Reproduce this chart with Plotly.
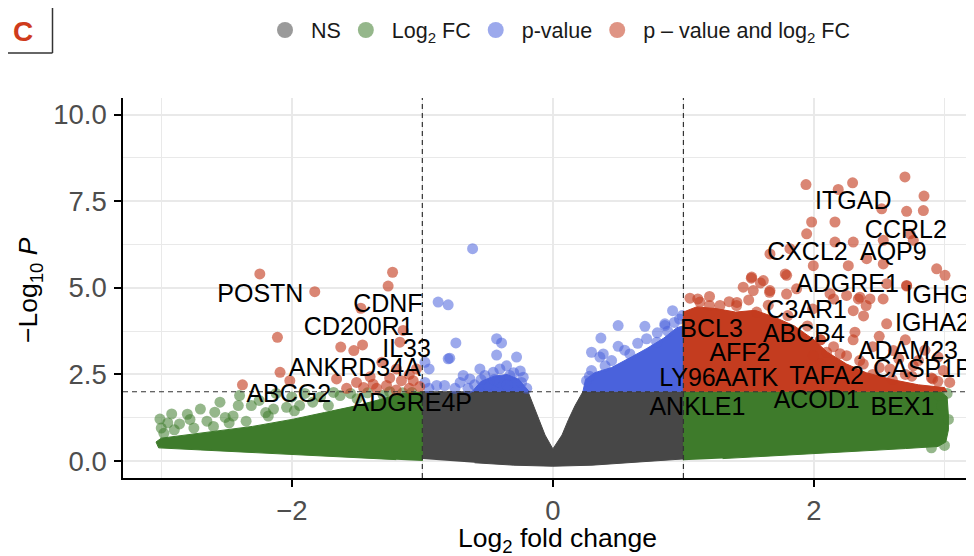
import plotly.graph_objects as go

# ---------------- data ----------------
fc_cutoff = 1.0
p_cutoff = 2.0
x_range = [-3.293, 3.226]
y_range = [-0.49, 10.48]

# Dense cores of the point clouds (outline of the saturated areas)
ns_core_x = [-1.0, -1.0, -0.19, -0.15, -0.11, -0.06, 0.0, 0.07, 0.12, 0.17, 0.23, 1.0, 1.0, 0.6, 0.3, 0.0, -0.3, -0.6]
ns_core_y = [0.06, 2.0, 2.0, 1.6, 1.2, 0.75, 0.35, 0.75, 1.2, 1.6, 2.0, 2.0, 0.06, -0.05, -0.12, -0.15, -0.12, -0.05]

fc_left_core_x = [-1.0, -1.0, -1.15, -1.3, -1.5, -1.75, -2.0, -2.3, -2.6, -2.85, -3.0, -3.04, -3.02, -2.7, -2.3, -1.9, -1.5, -1.2]
fc_left_core_y = [0.0, 2.0, 1.95, 1.8, 1.6, 1.4, 1.2, 1.0, 0.85, 0.72, 0.66, 0.55, 0.38, 0.32, 0.25, 0.17, 0.1, 0.04]
fc_right_core_x = [1.0, 1.0, 2.97, 3.02, 3.03, 3.03, 3.01, 2.95, 2.7, 2.4, 2.0, 1.6, 1.3]
fc_right_core_y = [0.02, 2.0, 2.0, 1.85, 1.3, 0.9, 0.55, 0.42, 0.36, 0.3, 0.2, 0.12, 0.07]

p_left_core_x = [-0.62, -0.55, -0.45, -0.35, -0.26, -0.2, -0.18]
p_left_core_y = [2.0, 2.3, 2.45, 2.5, 2.35, 2.1, 2.0]
p_right_core_x = [0.23, 0.25, 0.32, 0.45, 0.6, 0.72, 0.85, 0.95, 1.0, 1.0]
p_right_core_y = [2.0, 2.35, 2.55, 2.7, 3.0, 3.25, 3.55, 3.85, 3.9, 2.0]

both_right_core_x = [1.0, 1.0, 1.1, 1.25, 1.4, 1.55, 1.7, 1.85, 2.0, 2.1, 2.25, 2.4, 2.6, 2.8, 3.0, 3.02]
both_right_core_y = [2.0, 4.3, 4.45, 4.4, 4.3, 4.35, 4.15, 3.9, 3.5, 3.15, 2.8, 2.55, 2.35, 2.2, 2.12, 2.0]

# Individual (sparse) points
fc_pts_x = [-3.01, -2.92, -2.86, -2.70, -2.59, -2.51, -2.40, -2.41, -2.31, -2.14, -2.04, -1.94, -1.84, -1.63, -1.68,
            -3.0, -2.95, -2.78, -2.65, -2.45, -2.2, -2.25, -2.0, -1.78, -1.55, -1.42, -2.55, -2.8, -2.12, -1.9,
            -2.98, -2.9, -2.75, -2.6, -2.48, -2.35, -2.18, -1.98, -1.72, -1.5, -1.3, -1.15, -1.25, -1.08,
            3.02, 2.98, 3.0, 2.9, 3.03, 2.96]
fc_pts_y = [1.21, 1.36, 1.07, 1.50, 1.41, 1.26, 1.89, 1.60, 1.60, 1.50, 1.55, 1.60, 1.70, 1.89, 1.98,
            0.95, 1.1, 1.2, 1.15, 1.3, 1.4, 1.75, 1.85, 1.85, 1.95, 1.97, 1.7, 1.35, 1.95, 1.95,
            0.8, 0.9, 0.95, 1.0, 1.1, 1.15, 1.3, 1.45, 1.6, 1.8, 1.9, 1.97, 2.0, 1.98,
            1.95, 1.6, 0.45, 0.38, 1.2, 1.9]

p_pts_x = [-0.615, -0.879, -0.802, -0.743, -0.802, -0.79, -0.948, -0.431, -0.393, -0.431, -0.278, -0.559, -0.687,
           -0.355, -0.227, -0.89, -0.83, -0.71, -0.636, -0.521, -0.457, -0.406, -0.33, -0.291, -0.24, -0.406,
           -0.98, -0.98, -0.5, -0.45, -0.35, -0.3, -0.25, -0.6, -0.55, -0.95, -0.2, -0.75, -0.65,
           0.50, 0.705, 0.858, 0.917, 0.368, 0.50, 0.296, 0.386, 0.36, 0.296, 0.258, 0.59, 0.718, 0.795,
           0.858, 0.97, 0.93, 0.65, 0.45, 0.4, 0.28, 0.55, 0.8, 0.88, 0.99]
p_pts_y = [6.13, 4.59, 4.51, 3.41, 2.95, 2.97, 2.66, 3.53, 3.41, 3.06, 3.00, 2.66, 2.47,
           2.75, 2.42, 2.18, 2.18, 2.27, 2.37, 2.47, 2.56, 2.66, 2.47, 2.27, 2.27, 2.27,
           2.27, 2.85, 2.2, 2.35, 2.2, 2.55, 2.6, 2.2, 2.35, 2.1, 2.1, 2.1, 2.1,
           3.91, 3.89, 3.91, 4.34, 3.55, 3.31, 3.14, 3.09, 3.0, 2.61, 2.32, 3.09, 3.53, 3.43,
           3.96, 4.1, 4.0, 3.4, 2.9, 2.75, 2.45, 3.2, 3.7, 3.75, 4.2]

both_pts_x = [-2.245, -1.824, -1.228, -1.262, -1.471, -2.11, -1.147, -1.625, -1.525, -1.458, -1.172, -2.09, -2.378,
              -2.015, -1.657, -1.504, -1.377, -1.274, -1.16, -1.07, -1.045, -1.198, -1.31, -1.40,
              -1.1, -1.2, -1.35, -1.45, -1.02, -1.25, -1.1, -1.58,
              2.697, 1.939, 2.296, 2.186, 2.843, 2.519, 2.710, 2.838, 1.982, 2.161, 1.944, 2.161, 2.301, 2.531,
              2.761, 2.736, 1.663, 1.816, 2.404, 2.531, 2.263, 2.940, 3.004, 1.995, 1.523, 1.612, 1.791, 1.458,
              1.535, 1.663, 2.557, 2.710, 2.352, 2.429, 2.250, 2.123, 1.867, 1.126, 1.280, 1.407, 1.561, 2.557,
              2.301, 2.314, 2.608, 2.25, 2.378, 2.582, 2.761, 2.991, 3.04, 2.91, 2.097, 1.995, 2.34, 2.40,
              1.11, 1.20, 1.41, 1.52, 1.59, 1.66, 1.78, 1.79, 1.99, 2.15, 2.38, 2.53, 2.71,
              2.05, 2.15, 2.3, 2.45, 2.5, 2.7, 2.85, 2.95, 2.8, 2.65, 2.45, 2.2, 2.05, 2.6, 2.75, 2.95,
              1.05, 1.2, 1.35, 1.5, 1.65, 1.8, 1.95, 2.05, 2.2, 2.35, 2.5, 2.7, 2.9]
both_pts_y = [5.40, 4.89, 5.45, 5.05, 4.41, 3.57, 3.77, 3.29, 3.19, 3.35, 3.43, 2.56, 2.20,
              2.32, 2.37, 2.27, 2.22, 2.18, 2.32, 2.32, 2.66, 2.66, 2.85, 2.43,
              2.1, 2.05, 2.1, 2.12, 2.15, 2.4, 2.5, 2.1,
              8.20, 7.98, 8.03, 7.84, 7.65, 7.28, 7.21, 7.23, 6.90, 6.90, 6.56, 6.32, 6.32, 6.37,
              6.37, 6.56, 5.98, 6.13, 5.84, 5.69, 5.64, 5.55, 5.36, 5.64, 5.31, 5.21, 5.36, 5.02,
              4.92, 4.92, 5.12, 5.07, 4.73, 4.68, 4.78, 4.83, 4.97, 4.59, 4.49, 4.49, 4.30, 3.96,
              4.34, 3.72, 3.19, 3.04, 2.80, 2.66, 2.75, 2.61, 2.27, 2.37, 3.14, 3.04, 4.68, 4.49,
              4.68, 4.49, 4.58, 5.28, 5.14, 4.87, 5.40, 4.82, 4.39, 4.68, 4.19, 4.68, 5.05,
              3.5, 3.3, 3.5, 3.3, 3.6, 3.5, 3.2, 3.0, 2.9, 2.95, 2.5, 2.6, 2.8, 2.35, 2.45, 2.3,
              4.7, 4.75, 4.6, 4.65, 4.5, 4.2, 3.9, 3.5, 3.1, 2.9, 2.7, 2.5, 2.4]

# Gene labels (label centre positions)
gene_names = ["POSTN", "CDNF", "CD200R1", "IL33", "ANKRD34A", "ABCG2", "ADGRE4P",
              "ITGAD", "CCRL2", "CXCL2", "AQP9", "ADGRE1", "IGHG2", "C3AR1", "BCL3", "ABCB4",
              "IGHA2", "ADAM23", "AFF2", "CASP1P2", "LY96", "AATK", "TAFA2", "ACOD1", "BEX1", "ANKLE1"]
gene_x = [-2.241, -1.264, -1.487, -1.121, -1.517, -2.023, -1.077,
          2.301, 2.704, 1.950, 2.608, 2.257, 3.00, 1.944, 1.216, 1.923,
          2.908, 2.72, 1.433, 2.885, 1.031, 1.484, 2.097, 2.021, 2.678, 1.107]
gene_y = [4.76, 4.49, 3.83, 3.18, 2.63, 1.88, 1.62,
          7.45, 6.63, 5.97, 5.97, 5.06, 4.75, 4.31, 3.75, 3.61,
          3.93, 3.13, 3.06, 2.61, 2.34, 2.34, 2.40, 1.70, 1.50, 1.50]

legend_names = ["NS", "Log<sub>2</sub> FC", "p-value", "p \u2013 value and log<sub>2</sub> FC"]
group_colors = ["#474747", "#3e7b2b", "#4a62dc", "#c43c1f"]

# ---------------- figure ----------------
FONT = "Liberation Sans, Arial, Helvetica, sans-serif"
fig = go.Figure()

def core(xs, ys, color):
    fig.add_trace(go.Scatter(x=xs, y=ys, mode="lines", fill="toself", fillcolor=color,
                             line=dict(width=1, color=color), hoverinfo="skip", showlegend=False))

def pts(xs, ys, color, op=0.6):
    fig.add_trace(go.Scatter(x=xs, y=ys, mode="markers",
                             marker=dict(size=11, color=color, opacity=op, line=dict(width=0)),
                             hoverinfo="skip", showlegend=False))

core(ns_core_x, ns_core_y, group_colors[0])
core(fc_left_core_x, fc_left_core_y, group_colors[1])
core(fc_right_core_x, fc_right_core_y, group_colors[1])
pts(fc_pts_x, fc_pts_y, group_colors[1], 0.55)
core(p_left_core_x, p_left_core_y, group_colors[2])
core(p_right_core_x, p_right_core_y, group_colors[2])
pts(p_pts_x, p_pts_y, group_colors[2], 0.55)
core(both_right_core_x, both_right_core_y, group_colors[3])
pts(both_pts_x, both_pts_y, group_colors[3], 0.62)

# cut-off lines
for xv in (-fc_cutoff, fc_cutoff):
    fig.add_trace(go.Scatter(x=[xv, xv], y=y_range, mode="lines",
                             line=dict(color="#333333", width=1.2, dash="5px,4px"),
                             hoverinfo="skip", showlegend=False))
fig.add_trace(go.Scatter(x=x_range, y=[p_cutoff, p_cutoff], mode="lines",
                         line=dict(color="#333333", width=1.2, dash="5px,4px"),
                         hoverinfo="skip", showlegend=False))

# gene labels
fig.add_trace(go.Scatter(x=gene_x, y=gene_y, mode="text", text=gene_names,
                         textposition="middle center",
                         textfont=dict(family=FONT, size=25, color="#000000"),
                         hoverinfo="skip", showlegend=False, cliponaxis=True))

# legend entries (a leading no-break space widens the symbol-to-text gap)
for name, col in zip(legend_names, group_colors):
    fig.add_trace(go.Scatter(x=[None], y=[None], mode="markers", name="\u00a0" + name,
                             marker=dict(size=16, color=col, opacity=0.55)))

axis_common = dict(showline=True, linecolor="#000000", linewidth=1.6, mirror=False,
                   ticks="outside", ticklen=7, tickwidth=1.5, tickcolor="#000000",
                   tickfont=dict(family=FONT, size=27.5, color="#4d4d4d"),
                   showgrid=True, gridcolor="#e9e9e9", gridwidth=1.5, zeroline=False)

# The page adds an 8 px body margin, so the figure is 8 px smaller and offset.
W, H = 966, 548
PL, PT, PB = 115, 90, 78
fig.update_layout(
    width=W, height=H,
    margin=dict(l=PL, r=0, t=PT, b=PB, autoexpand=False),
    paper_bgcolor="white", plot_bgcolor="white",
    font=dict(family=FONT, color="#000000"),
    xaxis=dict(range=x_range, tick0=0, dtick=2, ticklabelstandoff=0,
               minor=dict(dtick=1, tick0=0, showgrid=True, gridcolor="#e9e9e9", gridwidth=0.9),
               **axis_common),
    yaxis=dict(range=y_range, tick0=0, dtick=2.5, tickformat=".1f", ticklabelstandoff=2,
               minor=dict(dtick=1.25, tick0=0, showgrid=True, gridcolor="#e9e9e9", gridwidth=0.9),
               **axis_common),
    legend=dict(orientation="h", xref="container", yref="container", x=257 / W, y=1 - 22 / H,
                xanchor="left", yanchor="middle", font=dict(family=FONT, size=21.5, color="#1a1a1a"),
                bgcolor="rgba(0,0,0,0)", itemsizing="trace"),
    showlegend=True,
)

pw, ph = W - PL, H - PT - PB   # plot area size (851 x 380)
def px2paper_x(sx):  # screen pixel -> paper
    return (sx - 8 - PL) / pw
def px2paper_y(sy):
    return (PT + ph - (sy - 8)) / ph

# axis titles
fig.add_annotation(text="Log<sub>2</sub> fold change", xref="paper", yref="paper",
                   x=px2paper_x(557), y=px2paper_y(540), showarrow=False,
                   font=dict(family=FONT, size=26.5, color="#000000"), xanchor="center", yanchor="middle")
fig.add_annotation(text="\u2212Log<sub>10</sub> <i>P</i>", xref="paper", yref="paper",
                   x=px2paper_x(30), y=px2paper_y(290), showarrow=False, textangle=-90,
                   font=dict(family=FONT, size=26.5, color="#000000"), xanchor="center", yanchor="middle")

# panel letter "C" with its corner frame
fig.add_annotation(text="<b>C</b>", xref="paper", yref="paper", x=px2paper_x(23), y=px2paper_y(31.5),
                   showarrow=False, font=dict(family=FONT, size=28, color="#cf3b1c"),
                   xanchor="center", yanchor="middle")
fig.add_shape(type="line", xref="paper", yref="paper", x0=px2paper_x(52.5), x1=px2paper_x(52.5),
              y0=px2paper_y(7), y1=px2paper_y(53), line=dict(color="#333333", width=1.5))
fig.add_shape(type="line", xref="paper", yref="paper", x0=px2paper_x(0), x1=px2paper_x(52.5),
              y0=px2paper_y(53), y1=px2paper_y(53), line=dict(color="#333333", width=1.5))

fig.write_html("out.html")
